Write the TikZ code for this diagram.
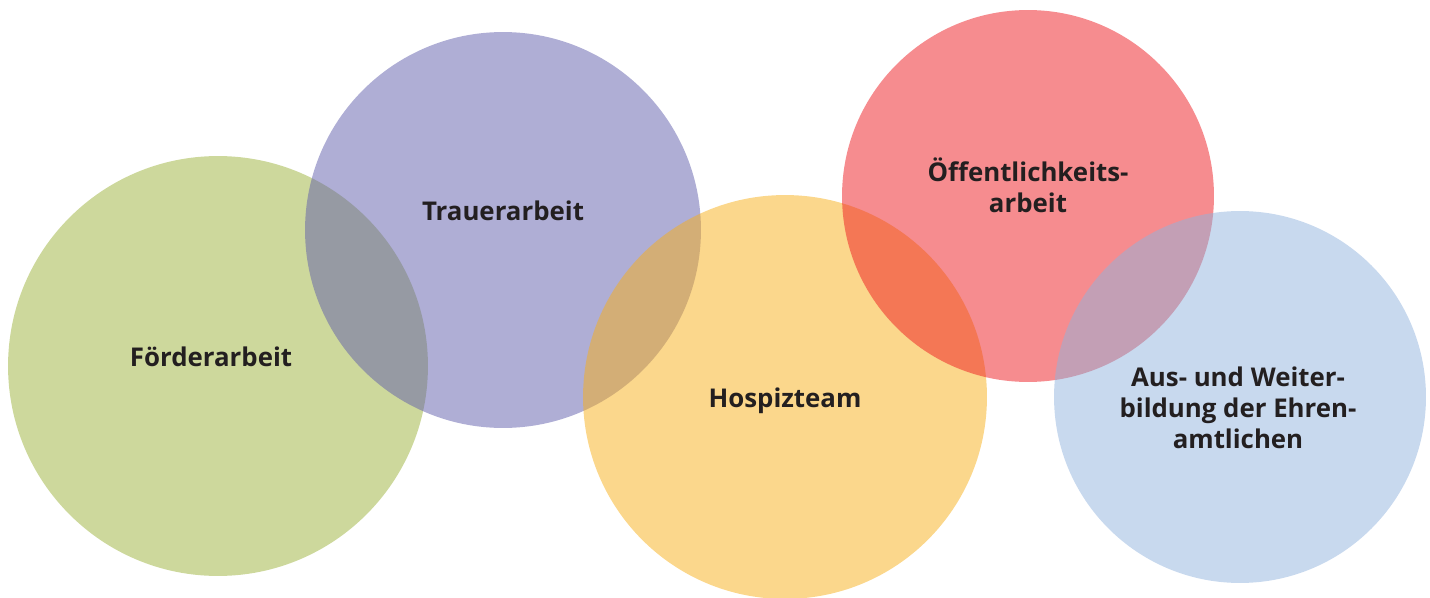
\documentclass[tikz,border=0pt]{standalone}
\usepackage{fontspec}
\setmainfont{Open Sans}
\usetikzlibrary{positioning}

\definecolor{foerdergreen}{RGB}{155,177,57}
\definecolor{trauerviolet}{RGB}{95,93,171}
\definecolor{hospizyellow}{RGB}{247,175,25}
\definecolor{oeffred}{RGB}{237,25,31}
\definecolor{ausblue}{RGB}{145,179,221}
\definecolor{labeltext}{RGB}{35,31,32}

\tikzset{
  bubble/.style={circle,inner sep=0pt,fill opacity=0.5,text opacity=1},
  label text/.style={font=\bfseries\fontsize{14.7}{17.5}\selectfont,
    text=labeltext,align=center}
}

\begin{document}
\begin{tikzpicture}[x=0.02cm,y=-0.02cm]
    \useasboundingbox (0,0) rectangle (1430,598);

    % circles
    \node[bubble,fill=foerdergreen,minimum size=8.4cm] (foerder) at (218,366) {};
    \node[bubble,fill=trauerviolet,minimum size=7.92cm] (trauer) at (503,230) {};
    \node[bubble,fill=hospizyellow,minimum size=8.08cm] (hospiz) at (785,397) {};
    \node[bubble,fill=oeffred,minimum size=7.44cm] (oeff) at (1028,196) {};
    \node[bubble,fill=ausblue,minimum size=7.44cm] (aus) at (1240,397) {};

    % labels
    \node[label text] (foerderlabel) at ([xshift=-0.14cm,yshift=0.18cm]foerder.center) {Förderarbeit};
    \node[label text] (trauerlabel) at ([yshift=0.38cm]trauer.center) {Trauerarbeit};
    \node[label text] (hospizlabel) at ([yshift=-0.07cm]hospiz.center) {Hospizteam};
    \node[label text] (oefflabel) at ([yshift=0.22cm]oeff.center) {Öffentlichkeits-\\arbeit};
    \node[label text] (auslabel) at ([xshift=-0.04cm,yshift=-0.22cm]aus.center) {Aus- und Weiter-\\bildung der Ehren-\\amtlichen};
\end{tikzpicture}
\end{document}
